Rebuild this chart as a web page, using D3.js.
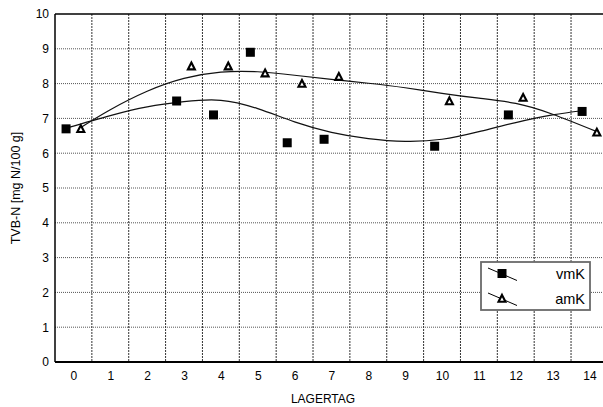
<!DOCTYPE html>
<html><head><meta charset="utf-8">
<script src="https://cdn.jsdelivr.net/npm/d3@7"></script>
<style>
html,body{margin:0;padding:0;background:#fff;}
svg{display:block;font-family:"Liberation Sans",Arial,sans-serif;}
</style></head>
<body><svg id="chart" width="603" height="407"></svg>
<script>
// ---- data ----
const days = [0, 3, 4, 5, 6, 7, 10, 12, 14];
const vmK = [6.7, 7.5, 7.1, 8.9, 6.3, 6.4, 6.2, 7.1, 7.2];
const amK = [6.7, 8.5, 8.5, 8.3, 8.0, 8.2, 7.5, 7.6, 6.6];
const offsetVmK = -0.2, offsetAmK = 0.2;
const xTickLabels = [0,1,2,3,4,5,6,7,8,9,10,11,12,13,14];
const yTicks = [0,1,2,3,4,5,6,7,8,9,10];
// smoothed fit curves [x, y]
const vmKFitX = [-0.2, 1.0, 2.0, 3.0, 4.0, 5.0, 6.0, 7.0, 8.0, 9.0, 10.0, 11.0, 12.0, 13.0, 13.8];
const vmKFitY = [6.72, 7.08, 7.33, 7.48, 7.52, 7.28, 6.90, 6.60, 6.42, 6.34, 6.40, 6.62, 6.88, 7.10, 7.22];
const amKFitX = [0.2, 1.0, 2.0, 3.0, 4.0, 5.0, 6.0, 7.0, 8.0, 9.0, 10.0, 11.0, 12.0, 13.0, 14.2];
const amKFitY = [6.74, 7.25, 7.78, 8.15, 8.33, 8.34, 8.24, 8.12, 8.01, 7.88, 7.72, 7.58, 7.43, 7.12, 6.62];
const seriesNames = ["vmK", "amK"];

(function () {
// ---- layout ----
const svg = d3.select("#chart");
const mLeft = 55, mTop = 14, mBottom = 362;
const step = 36.86;
const x = d3.scaleLinear().domain([-0.5, 14.5]).range([mLeft, mLeft + 15 * step]);
const y = d3.scaleLinear().domain([0, 10]).range([mBottom, mTop]);
const mRight = x(14.5);

// grid
const grid = svg.append("g");
grid.selectAll("line.h").data(yTicks.filter(d => d > 0 && d < 10)).join("line")
  .attr("x1", mLeft).attr("x2", mRight).attr("y1", d => y(d)).attr("y2", d => y(d))
  .attr("stroke", "#555").attr("stroke-width", 1).attr("stroke-dasharray", "1,1");
grid.selectAll("line.v").data(xTickLabels.map(d => d + 0.5)).join("line")
  .attr("x1", d => x(d)).attr("x2", d => x(d)).attr("y1", mTop).attr("y2", mBottom)
  .attr("stroke", "#333").attr("stroke-width", 1).attr("stroke-dasharray", "2,1");

// frame
svg.append("line").attr("x1", mLeft).attr("x2", mRight).attr("y1", mTop).attr("y2", mTop).attr("stroke", "#000").attr("stroke-width", 1.3);
svg.append("line").attr("x1", mLeft).attr("x2", mLeft).attr("y1", mTop).attr("y2", mBottom).attr("stroke", "#000").attr("stroke-width", 1.5);
svg.append("line").attr("x1", mLeft).attr("x2", mRight).attr("y1", mBottom).attr("y2", mBottom).attr("stroke", "#000").attr("stroke-width", 1.8);

// axes (labels only)
const yAxis = svg.append("g").attr("transform", `translate(${mLeft},0)`)
  .call(d3.axisLeft(y).tickValues(yTicks).tickSize(0).tickPadding(6).tickFormat(d3.format("d")));
yAxis.select(".domain").remove();
yAxis.selectAll("text").attr("font-size", 12).attr("font-family", "Liberation Sans, Arial, sans-serif").attr("fill", "#000");

const xAxis = svg.append("g").attr("transform", `translate(0,${mBottom})`)
  .call(d3.axisBottom(x).tickValues(xTickLabels).tickSize(0).tickPadding(9.5).tickFormat(d3.format("d")));
xAxis.select(".domain").remove();
xAxis.selectAll("text").attr("font-size", 12).attr("font-family", "Liberation Sans, Arial, sans-serif").attr("fill", "#000");

// axis titles
svg.append("text").attr("transform", `translate(20,${(mTop + mBottom) / 2}) rotate(-90)`)
  .attr("text-anchor", "middle").attr("font-size", 12.5).text("TVB-N [mg N/100 g]");
svg.append("text").attr("x", 323).attr("y", 403).attr("text-anchor", "middle")
  .attr("font-size", 12).text("LAGERTAG");

// fit curves
const line = d3.line().x(d => x(d[0])).y(d => y(d[1])).curve(d3.curveNatural);
svg.append("path").datum(d3.zip(vmKFitX, vmKFitY)).attr("d", line)
  .attr("fill", "none").attr("stroke", "#111").attr("stroke-width", 1.2);
svg.append("path").datum(d3.zip(amKFitX, amKFitY)).attr("d", line)
  .attr("fill", "none").attr("stroke", "#111").attr("stroke-width", 1.2);

// markers
const sq = 9;
svg.append("g").selectAll("rect").data(d3.zip(days, vmK)).join("rect")
  .attr("x", d => x(d[0] + offsetVmK) - sq / 2).attr("y", d => y(d[1]) - sq / 2)
  .attr("width", sq).attr("height", sq).attr("fill", "#000");
const tri = "M0,-3.6L3.5,3.2L-3.5,3.2Z";
svg.append("g").selectAll("path").data(d3.zip(days, amK)).join("path")
  .attr("transform", d => `translate(${x(d[0] + offsetAmK)},${y(d[1])})`)
  .attr("d", tri).attr("fill", "#fff").attr("stroke", "#000").attr("stroke-width", 2.1)
  .attr("stroke-linejoin", "miter");

// legend
const lg = svg.append("g").attr("transform", "translate(481,262)");
lg.append("rect").attr("x", 0).attr("y", 0).attr("width", 109).attr("height", 48)
  .attr("fill", "#fff").attr("stroke", "#6a6a6a").attr("stroke-width", 1.8);
seriesNames.forEach((name, i) => {
  const cy = 11.5 + i * 25;
  lg.append("line").attr("x1", 7).attr("x2", 36).attr("y1", cy - 5.5).attr("y2", cy + 7)
    .attr("stroke", "#000").attr("stroke-width", 1);
  if (i === 0) {
    lg.append("rect").attr("x", 21 - sq / 2).attr("y", cy - sq / 2).attr("width", sq).attr("height", sq).attr("fill", "#000");
  } else {
    lg.append("path").attr("transform", `translate(21,${cy})`).attr("d", tri)
      .attr("fill", "#fff").attr("stroke", "#000").attr("stroke-width", 2.1);
  }
  lg.append("text").attr("x", 104).attr("y", cy + 5.5).attr("text-anchor", "end")
    .attr("font-size", 14.5).text(name);
});
})();
</script></body></html>
